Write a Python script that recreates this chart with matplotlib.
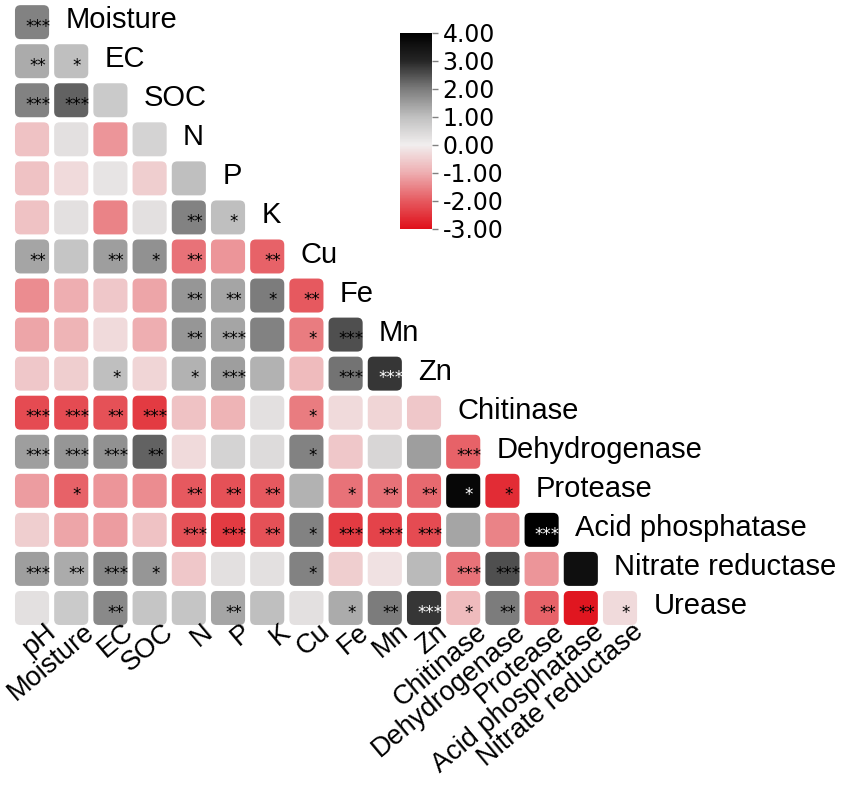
import matplotlib
matplotlib.use("Agg")
import matplotlib.pyplot as plt
import numpy as np
from matplotlib.colors import LinearSegmentedColormap, Normalize
from matplotlib.patches import FancyBboxPatch
from matplotlib.cm import ScalarMappable

plt.rcParams['font.family'] = ['Liberation Sans', 'DejaVu Sans']

# variable names (columns go pH..Nitrate reductase, rows go Moisture..Urease)
variables = ["pH", "Moisture", "EC", "SOC", "N", "P", "K", "Cu", "Fe", "Mn", "Zn",
             "Chitinase", "Dehydrogenase", "Protease", "Acid phosphatase",
             "Nitrate reductase", "Urease"]

# lower triangle values, one list per row (row i has i+1 entries)
corr_rows = [
    [1.9],
    [1.3, 1.0],
    [1.9, 2.3, 0.8],
    [-0.7, 0.3, -1.3, 0.6],
    [-0.7, -0.3, 0.2, -0.5, 1.0],
    [-0.7, 0.3, -1.5, 0.3, 1.9, 1.0],
    [1.4, 0.9, 1.5, 1.7, -1.7, -1.3, -1.9],
    [-1.4, -1.0, -0.6, -1.1, 1.6, 1.4, 2.0, -2.0],
    [-1.1, -0.9, -0.3, -1.0, 1.6, 1.4, 1.9, -1.6, 2.5],
    [-0.6, -0.5, 1.0, -0.4, 1.2, 1.5, 1.2, -0.8, 2.1, 2.8],
    [-2.2, -2.2, -2.1, -2.4, -0.7, -0.9, 0.3, -1.6, -0.3, -0.4, -0.6],
    [1.5, 1.6, 1.7, 2.3, -0.3, 0.6, 0.4, 1.9, -0.6, 0.5, 1.5, -1.9],
    [-1.2, -1.9, -1.3, -1.4, -2.0, -2.1, -2.0, 1.2, -1.7, -1.7, -1.8, 3.8, -2.6],
    [-0.5, -1.1, -1.2, -0.7, -2.1, -2.4, -2.1, 1.9, -2.4, -2.3, -2.2, 1.4, -1.5, 4.0],
    [1.5, 1.3, 1.8, 1.6, -0.6, 0.3, 0.3, 1.9, -0.5, -0.2, 1.1, -1.7, 2.5, -1.3, 3.6],
    [0.3, 0.8, 1.8, 0.9, 0.9, 1.4, 1.0, 0.3, 1.3, 2.0, 2.8, -0.8, 2.0, -1.9, -2.9, -0.3],
]

sig_rows = [
    ["***"],
    ["**", "*"],
    ["***", "***", ""],
    ["", "", "", ""],
    ["", "", "", "", ""],
    ["", "", "", "", "**", "*"],
    ["**", "", "**", "*", "**", "", "**"],
    ["", "", "", "", "**", "**", "*", "**"],
    ["", "", "", "", "**", "***", "", "*", "***"],
    ["", "", "*", "", "*", "***", "", "", "***", "***"],
    ["***", "***", "**", "***", "", "", "", "*", "", "", ""],
    ["***", "***", "***", "**", "", "", "", "*", "", "", "", "***"],
    ["", "*", "", "", "**", "**", "**", "", "*", "**", "**", "*", "*"],
    ["", "", "", "", "***", "***", "**", "*", "***", "***", "***", "", "", "***"],
    ["***", "**", "***", "*", "", "", "", "*", "", "", "", "***", "***", "", ""],
    ["", "", "**", "", "", "**", "", "", "*", "**", "***", "*", "**", "**", "**", "*"],
]

cmap = LinearSegmentedColormap.from_list("redgrey", [
    (0.0, "#e0101a"), (1/7, "#e65a60"), (2/7, "#eeaeb1"), (3/7, "#f1eeee"),
    (4/7, "#c0c0c0"), (5/7, "#7c7c7c"), (6/7, "#262626"), (1.0, "#000000")])
norm = Normalize(-3, 4)

fig = plt.figure(figsize=(8.51, 7.92), dpi=100)
ax = fig.add_axes([0.0146, 0.2077, 0.737, 0.789])
n = len(corr_rows)
ax.set_xlim(-0.5, n - 0.5)
ax.set_ylim(n - 0.5, -0.5)
ax.axis("off")

size = 0.87
for i, row in enumerate(corr_rows):
    for j, val in enumerate(row):
        box = FancyBboxPatch((j - size / 2, i - size / 2), size, size,
                             boxstyle="round,pad=0,rounding_size=0.14",
                             facecolor=cmap(norm(val)), edgecolor="none")
        ax.add_patch(box)
        s = sig_rows[i][j]
        if s:
            col = "white" if val > 2.7 else "black"
            ax.text(j + 0.15, i + 0.12, s, ha="center", va="center",
                    fontsize=12, color=col, family="DejaVu Sans")
    # row label right of the diagonal
    ax.text(i + 0.85, i - 0.05, variables[i + 1], ha="left", va="center", fontsize=21)

# column labels along the bottom
for j in range(n):
    ax.text(j + 0.3, n - 0.72, variables[j], ha="right", va="top", rotation=40,
            rotation_mode="anchor", fontsize=19.5)

# colorbar
cax = fig.add_axes([0.470, 0.7109, 0.0376, 0.2475])
sm = ScalarMappable(norm=norm, cmap=cmap)
cb = fig.colorbar(sm, cax=cax, ticks=np.arange(-3, 5))
cb.ax.set_yticklabels(["%.2f" % t for t in np.arange(-3, 5)], fontsize=17,
                      family="DejaVu Sans")
cb.outline.set_visible(False)
cb.ax.tick_params(color="gray", length=4, width=1)

fig.savefig("out.png", dpi=100)
